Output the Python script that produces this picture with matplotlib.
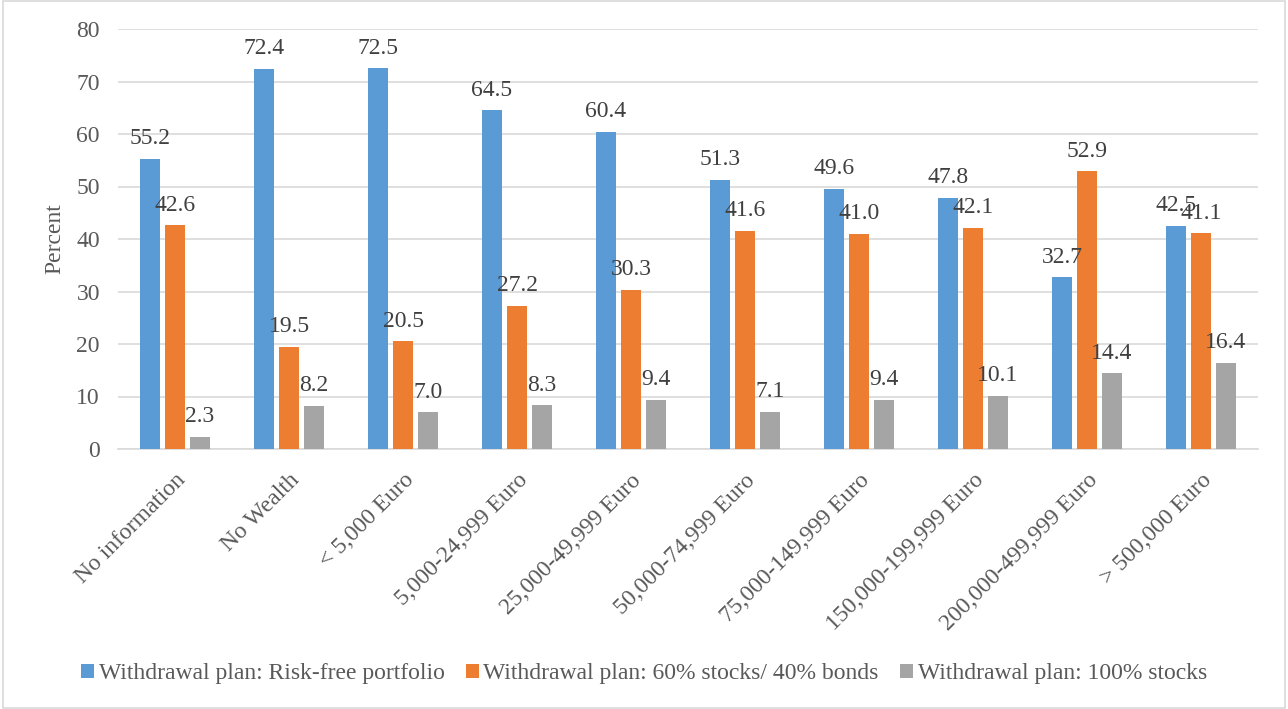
import matplotlib
matplotlib.use("Agg")
import matplotlib.pyplot as plt
import numpy as np
from matplotlib.patches import Rectangle

categories = ["No information", "No Wealth", "< 5,000 Euro", "5,000-24,999 Euro",
              "25,000-49,999 Euro", "50,000-74,999 Euro", "75,000-149,999 Euro",
              "150,000-199,999 Euro", "200,000-499,999 Euro", "> 500,000 Euro"]
risk_free = [55.2, 72.4, 72.5, 64.5, 60.4, 51.3, 49.6, 47.8, 32.7, 42.5]
mixed_60_40 = [42.6, 19.5, 20.5, 27.2, 30.3, 41.6, 41.0, 42.1, 52.9, 41.1]
stocks_100 = [2.3, 8.2, 7.0, 8.3, 9.4, 7.1, 9.4, 10.1, 14.4, 16.4]
series_names = ["Withdrawal plan: Risk-free portfolio",
                "Withdrawal plan: 60% stocks/ 40% bonds",
                "Withdrawal plan: 100% stocks"]
colors = ["#5B9BD5", "#ED7D31", "#A5A5A5"]

plt.rcParams['font.family'] = ['Liberation Serif', 'DejaVu Serif']
fs = 17

fig = plt.figure(figsize=(12.88, 7.09), dpi=100)
ax = fig.add_axes([118/1288, 1-449/709, (1258-118)/1288, (449-29)/709])

x = np.arange(len(categories))
w = 20/114
step = 25/114
for i, (vals, name, c) in enumerate(zip([risk_free, mixed_60_40, stocks_100], series_names, colors)):
    pos = x + (i-1)*step
    ax.bar(pos, vals, width=w, color=c, label=name, zorder=3)
    for p, v in zip(pos, vals):
        ax.annotate(f"{v:.1f}", (p, v), xytext=(0, 7), textcoords="offset points",
                    ha="center", va="bottom", fontsize=fs, color="#404040", zorder=4)

ax.set_xlim(-0.5, len(categories)-0.5)
ax.set_ylim(0, 80)
ax.set_yticks(range(0, 81, 10))
ax.yaxis.grid(True, color="#D9D9D9", linewidth=1.2, zorder=0)
ax.set_axisbelow(True)
for s in ["top", "right", "left"]:
    ax.spines[s].set_visible(False)
ax.spines["bottom"].set_color("#D9D9D9")
ax.spines["bottom"].set_linewidth(1.2)
ax.tick_params(axis="both", length=0, labelsize=fs, colors="#595959")
ax.tick_params(axis="y", pad=13)
ax.set_xticks(x)
ax.set_xticklabels(categories, rotation=45, ha="right", rotation_mode="anchor")
ax.tick_params(axis="x", pad=15)
ax.set_ylabel("Percent", fontsize=fs, color="#595959", labelpad=8)

fig.legend(loc="center", bbox_to_anchor=(0.5, 1-674/709), ncol=3, frameon=False,
           fontsize=fs, handlelength=0.55, handleheight=0.55, handletextpad=0.2,
           columnspacing=0.9, labelcolor="#595959")

fig.patches.append(Rectangle((0.002, 0.002), 0.996, 0.996, transform=fig.transFigure,
                             fill=False, edgecolor="#D9D9D9", linewidth=1.2))

fig.savefig("out.png", dpi=100)
